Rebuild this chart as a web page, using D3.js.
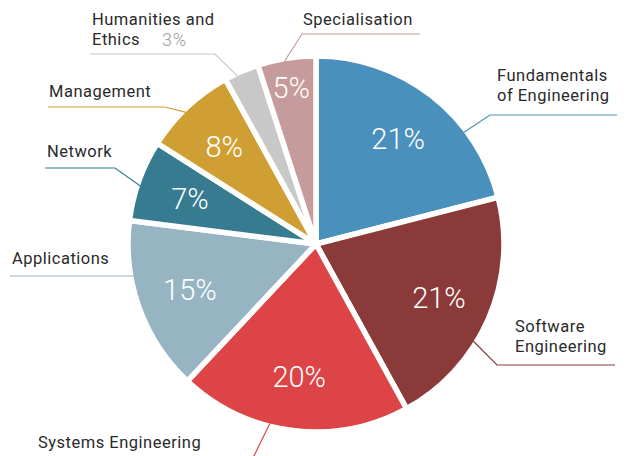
<!DOCTYPE html>
<html>
<head>
<meta charset="utf-8">
<script src="https://cdn.jsdelivr.net/npm/d3@7"></script>
<style>
  html, body { margin: 0; padding: 0; background: #fff; }
  svg { display: block; font-family: Roboto, "DejaVu Sans", sans-serif; }
</style>
</head>
<body>
<div id="chart"></div>
<script>
const categories = ["Fundamentals of Engineering", "Software Engineering", "Systems Engineering",
  "Applications", "Network", "Management", "Humanities and Ethics", "Specialisation"];
const shares = [21, 21, 20, 15, 7, 8, 3, 5];
const colors = ["#4a90bc", "#8b3a3a", "#dc4446", "#96b4c2", "#377b91", "#cf9f33", "#c8c8c8", "#c69b9c"];

const W = 629, H = 456;
const CX = 316, CY = 244, R = 188;

// label layout: text lines, text position, leader elbow, where the leader meets the slice (fraction of slice)
const labelLayout = [
  { lines: ["Fundamentals", "of Engineering"], tx: 497, ty: 81, lineY: 115, x0: 490, x1: 617, frac: 0.70 },
  { lines: ["Software", "Engineering"], tx: 515, ty: 332, lineY: 365, x0: 497, x1: 615, frac: 0.61 },
  { lines: ["Systems Engineering"], tx: 38, ty: 448, lineY: 470, x0: 247, x1: 247, frac: 0.60 },
  { lines: ["Applications"], tx: 12, ty: 264, lineY: 276, x0: 133, x1: 10, frac: 0.68 },
  { lines: ["Network"], tx: 47, ty: 157, lineY: 168, x0: 115, x1: 45, frac: 0.44 },
  { lines: ["Management"], tx: 49, ty: 97, lineY: 107, x0: 165, x1: 48, frac: 0.45 },
  { lines: ["Humanities and", "Ethics"], tx: 92, ty: 25, lineY: 54, x0: 215, x1: 90, frac: 0.35 },
  { lines: ["Specialisation"], tx: 303, ty: 25, lineY: 34, x0: 302, x1: 420, frac: 0.45 }
];

const data = categories.map((c, i) => ({ label: c, value: shares[i], color: colors[i], layout: labelLayout[i] }));

const svg = d3.select("#chart").append("svg")
  .attr("width", W).attr("height", H);

const g = svg.append("g").attr("transform", `translate(${CX},${CY})`);

const pie = d3.pie().value(d => d.value).sort(null);
const arc = d3.arc().innerRadius(0).outerRadius(R);
const arcs = pie(data);

g.selectAll("path.slice")
  .data(arcs)
  .join("path")
  .attr("class", "slice")
  .attr("d", arc)
  .attr("fill", d => d.data.color)
  .attr("stroke", "#fff")
  .attr("stroke-width", 5.5)
  .attr("stroke-linejoin", "miter");

// percentage labels inside slices
const pct = d3.format(".0f");
g.selectAll("text.pct")
  .data(arcs.filter(d => d.data.value >= 5))
  .join("text")
  .attr("class", "pct")
  .attr("transform", d => {
    const r = d.data.value <= 5 ? 158 : 134;
    const a = (d.startAngle + d.endAngle) / 2;
    return `translate(${Math.sin(a) * r},${-Math.cos(a) * r})`;
  })
  .attr("text-anchor", "middle")
  .attr("dy", "0.36em")
  .attr("fill", "#fff")
  .attr("font-size", 29)
  .attr("font-weight", 300)
  .text(d => pct(d.data.value) + "%");

// leader lines and outside labels
const ann = svg.append("g");
arcs.forEach(d => {
  const L = d.data.layout;
  const a = d.startAngle + (d.endAngle - d.startAngle) * L.frac;
  const px = CX + Math.sin(a) * (R - 3), py = CY - Math.cos(a) * (R - 3);
  const pts = d.data.label === "Systems Engineering"
    ? [[px, py], [L.x0, L.lineY]]
    : [[px, py], [L.x0, L.lineY], [L.x1, L.lineY]];
  ann.append("path")
    .attr("d", d3.line()(pts))
    .attr("fill", "none")
    .attr("stroke", d.data.color)
    .attr("stroke-width", 1.2);

  const t = ann.append("text")
    .attr("x", L.tx).attr("y", L.ty)
    .attr("fill", "#2a2a2a")
    .attr("font-size", 16.5)
    .attr("letter-spacing", 0.5);
  L.lines.forEach((s, i) => {
    t.append("tspan").attr("x", L.tx).attr("dy", i ? 20 : 0).text(s);
  });
  if (d.data.value < 5) {
    ann.append("text")
      .attr("x", 162).attr("y", L.ty + 21)
      .attr("fill", "#9a9a9a")
      .attr("font-size", 18)
      .attr("font-weight", 300)
      .attr("letter-spacing", 0.8)
      .text(pct(d.data.value) + "%");
  }
});
</script>
</body>
</html>
